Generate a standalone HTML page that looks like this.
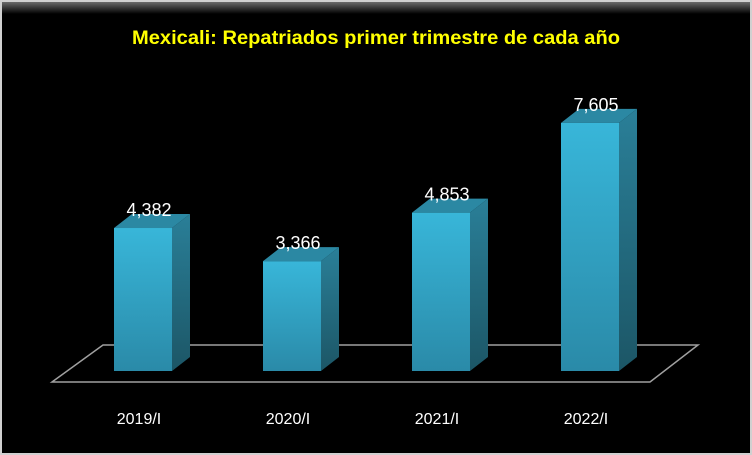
<!DOCTYPE html>
<html><head><meta charset="utf-8"><style>
html,body{margin:0;padding:0;background:#fff;}
#c{position:absolute;left:0;top:0;width:752px;height:455px;}
</style></head><body>
<svg id="c" width="752" height="455" xmlns="http://www.w3.org/2000/svg">
<defs>
<linearGradient id="front" x1="0" y1="0" x2="0" y2="1"><stop offset="0" stop-color="#38b6d9"/><stop offset="1" stop-color="#2a8aa8"/></linearGradient>
<linearGradient id="side" x1="0" y1="0" x2="0" y2="1"><stop offset="0" stop-color="#2a7f98"/><stop offset="1" stop-color="#1c5666"/></linearGradient>
<linearGradient id="topbar" x1="0" y1="0" x2="0" y2="1"><stop offset="0" stop-color="#6a6a6a"/><stop offset="1" stop-color="#000"/></linearGradient>
</defs>
<rect x="0" y="0" width="752" height="455" fill="#d0d0d0"/>
<rect x="2" y="2" width="748" height="451" fill="#000"/>
<rect x="2" y="2" width="748" height="12" fill="url(#topbar)"/>
<text x="376" y="44" text-anchor="middle" fill="#ffff00" font-family="Liberation Sans, sans-serif" font-weight="bold" font-size="19" textLength="488" lengthAdjust="spacingAndGlyphs">Mexicali: Repatriados primer trimestre de cada año</text>
<polygon points="52,382 103,345 698,345 650,382" fill="none" stroke="#a0a0a0" stroke-width="1.5"/>
<g id="bars"></g>
</svg>
<script>
const categories = ["2019/I","2020/I","2021/I","2022/I"];
const values = [4382,3366,4853,7605];
const labels = ["4,382","3,366","4,853","7,605"];
const NS="http://www.w3.org/2000/svg";
const base=371, k=0.03263, x0=114, step=149, w=58, dx=18, dy=14;
function yScale(v){return base - v*k;}
function xScale(i){return x0 + i*step;}
const g=document.getElementById('bars');
function mk(tag,attrs){const e=document.createElementNS(NS,tag);for(const a in attrs)e.setAttribute(a,attrs[a]);g.appendChild(e);return e;}
categories.forEach((c,i)=>{
  const x=xScale(i), y=yScale(values[i]);
  const side=mk('polygon',{points:`${x+w},${y} ${x+w+dx},${y-dy} ${x+w+dx},${base-dy} ${x+w},${base}`,fill:'url(#side)'});
  
  
  const top=mk('polygon',{points:`${x},${y} ${x+dx},${y-dy} ${x+w+dx},${y-dy} ${x+w},${y}`,fill:'#2b88a3'});
  
  
  const f=mk('rect',{x:x,y:y,width:w,height:base-y,fill:'url(#front)'});
  
  
  const t=mk('text',{x:x+w/2+6,y:y-12,'text-anchor':'middle',fill:'#fff','font-family':'Liberation Sans, sans-serif','font-size':'18'});
  t.textContent=labels[i];
  
  
  const l=mk('text',{x:x+w/2-4,y:424,'text-anchor':'middle',fill:'#fff','font-family':'Liberation Sans, sans-serif','font-size':'16'});
  l.textContent=c;
  
  
});
</script>
</body></html>
